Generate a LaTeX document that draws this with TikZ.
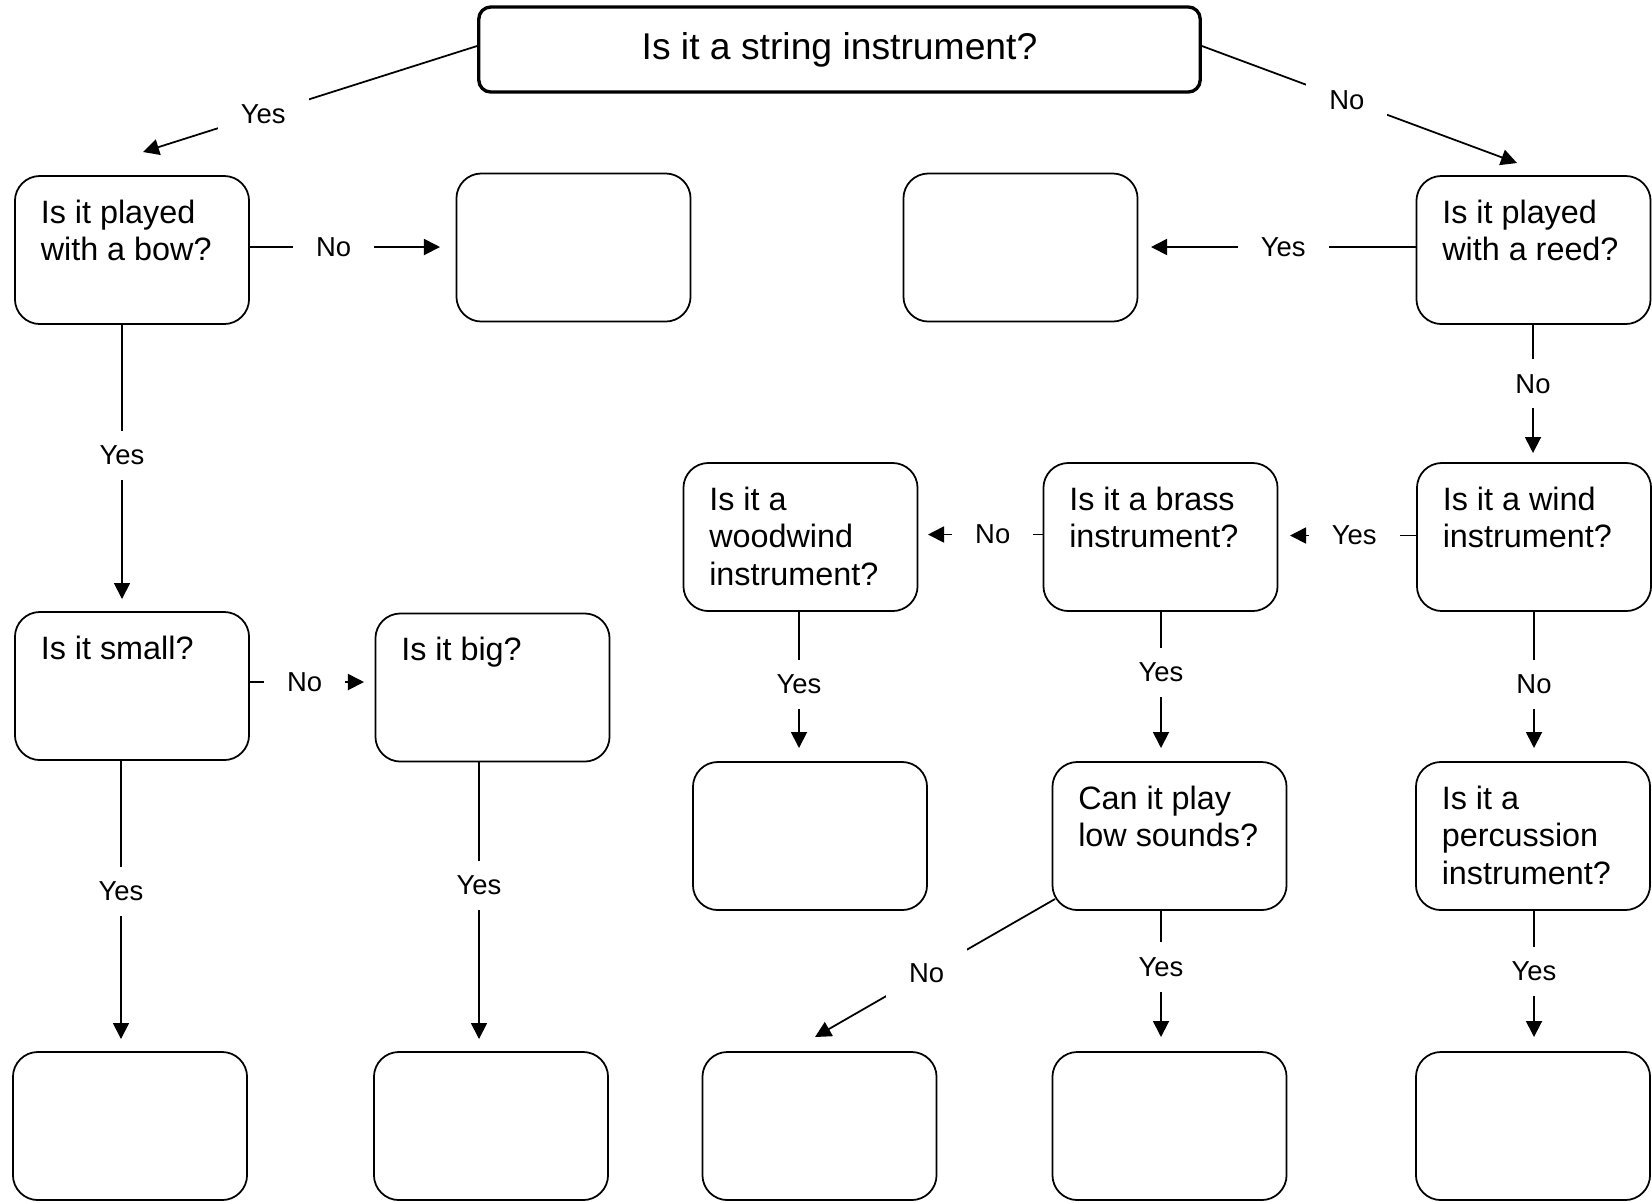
\documentclass[tikz,border=0pt]{standalone}
\usepackage{fontspec}
\setmainfont{Liberation Sans}
\usetikzlibrary{arrows.meta}

\begin{document}
\begin{tikzpicture}
  [x=.01cm,y=-.01cm
  ,qbox/.style={draw,line width=.5pt,rounded corners=.25cm,minimum width=2.34cm,minimum height=1.48cm,inner sep=0pt}
  ,rootbox/.style={draw,line width=.95pt,rounded corners=.12cm,minimum width=7.21cm,minimum height=.85cm,font=\fontsize{10.6}{12.7}\selectfont}
  ,qst/.style={anchor=north west,inner sep=0pt,align=left,font=\fontsize{9.2}{10.7}\selectfont}
  ,lin/.style={line width=.5pt,-{Triangle[length=.16cm,width=.16cm]}}
  ,lbl/.style={fill=white,inner xsep=.23cm,inner ysep=.15cm,font=\fontsize{7.8}{9}\selectfont}
  ]
  \useasboundingbox (0,0) rectangle (1652,1202);

  \node[rootbox] (root) at (839.5,49.5) {Is it a string instrument?};

  \node[qbox] (bow)   at (132,250)    {};
  \node[qbox] (ansA)  at (573.5,247.5) {};
  \node[qbox] (ansB)  at (1020.5,247.5) {};
  \node[qbox] (reed)  at (1533.5,250) {};
  \node[qbox] (wood)  at (800.5,537)  {};
  \node[qbox] (brass) at (1160.5,537) {};
  \node[qbox] (wind)  at (1534,537)   {};
  \node[qbox] (small) at (132,686)    {};
  \node[qbox] (big)   at (492.5,687.5) {};
  \node[qbox] (ansC)  at (810,836)    {};
  \node[qbox] (low)   at (1169.5,836) {};
  \node[qbox] (perc)  at (1533,836)   {};
  \foreach \x [count=\i] in {130,491,819.5,1169.5,1533}
    \node[qbox] (ans\i) at (\x,1126) {};

  \node[qst] (bow-q)   at ([shift={(26,24)}]bow.north west)   {Is it played\\with a bow?};
  \node[qst] (reed-q)  at ([shift={(26,24)}]reed.north west)  {Is it played\\with a reed?};
  \node[qst] (wood-q)  at ([shift={(26,24)}]wood.north west)  {Is it a\\woodwind\\instrument?};
  \node[qst] (brass-q) at ([shift={(26,24)}]brass.north west) {Is it a brass\\instrument?};
  \node[qst] (wind-q)  at ([shift={(26,24)}]wind.north west)  {Is it a wind\\instrument?};
  \node[qst] (small-q) at ([shift={(26,24)}]small.north west) {Is it small?};
  \node[qst] (big-q)   at ([shift={(26,24)}]big.north west)   {Is it big?};
  \node[qst] (low-q)   at ([shift={(26,24)}]low.north west)   {Can it play\\low sounds?};
  \node[qst] (perc-q)  at ([shift={(26,24)}]perc.north west)  {Is it a\\percussion\\instrument?};

  % arrow ends stop short of the boxes
  \coordinate (bow-in)   at (143,152);
  \coordinate (reed-in)  at (1517,163);
  \coordinate (ansA-in)  at (440,247);
  \coordinate (ansB-in)  at (1151,247);
  \coordinate (wind-in)  at (1533,453);
  \coordinate (small-in) at (122,599);
  \coordinate (big-in)   at (364,682);
  \coordinate (brass-in) at (1290,535.5);
  \coordinate (wood-in)  at (928,534.5);
  \coordinate (ansC-in)  at (799,748);
  \coordinate (low-in)   at (1161,748);
  \coordinate (perc-in)  at (1534,748);
  \coordinate (low-out)  at (1055,899);
  \coordinate (ans1-in)  at (121,1039);
  \coordinate (ans2-in)  at (479,1039);
  \coordinate (ans3-in)  at (815,1037);
  \coordinate (ans4-in)  at (1161,1037);
  \coordinate (ans5-in)  at (1534,1037);

  \draw[lin] ([yshift=1pt]root.west) -- node[lbl,pos=.64] (yes1) {Yes} (bow-in);
  \draw[lin] ([yshift=1pt]root.east) -- node[lbl,pos=.46] (no1) {No} (reed-in);
  \draw[lin] (bow.east |- ansA-in) -- node[lbl,pos=.44] (no2) {No} (ansA-in);
  \draw[lin] (reed.west |- ansB-in) -- node[lbl,pos=.5] (yes2) {Yes} (ansB-in);
  \draw[lin] (small.east |- big-in) -- node[lbl,pos=.48] (no3) {No} (big-in);
  \draw[lin] (wind.west |- brass-in) -- node[lbl,pos=.49] (yes3) {Yes} (brass-in);
  \draw[lin] (brass.west |- wood-in) -- node[lbl,pos=.435] (no4) {No} (wood-in);
  \draw[lin] (low-out) -- node[lbl,pos=.535] (no5) {No} (ans3-in);
  \foreach \s/\e/\p/\t/\n in {bow/small-in/.476/Yes/yes4, reed/wind-in/.46/No/no6,
      small/ans1-in/.469/Yes/yes5, big/ans2-in/.444/Yes/yes6, wood/ansC-in/.534/Yes/yes7,
      brass/low-in/.446/Yes/yes8, wind/perc-in/.534/No/no7, low/ans4-in/.445/Yes/yes9,
      perc/ans5-in/.477/Yes/yes10}
    \draw[lin] (\s.south -| \e) -- node[lbl,pos=\p] (\n) {\t} (\e);
\end{tikzpicture}
\end{document}
